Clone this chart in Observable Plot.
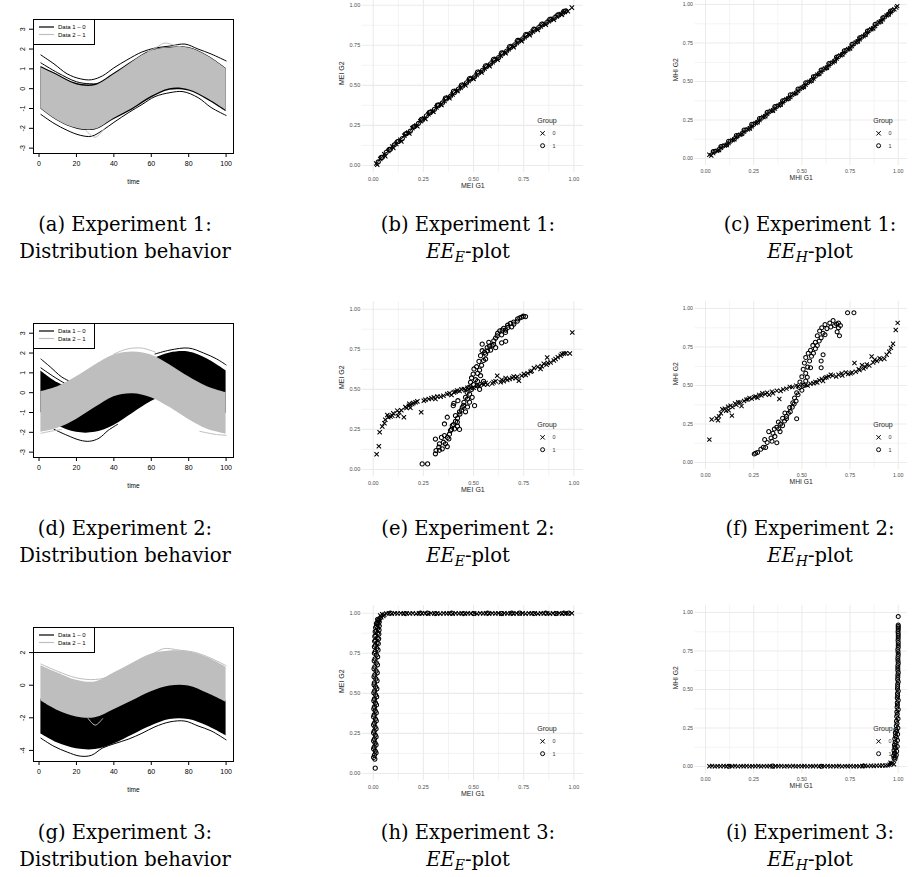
<!DOCTYPE html>
<html>
<head>
<meta charset="utf-8">
<script src="https://cdn.jsdelivr.net/npm/d3@7"></script>
<script src="https://cdn.jsdelivr.net/npm/@observablehq/plot@0.6"></script>
<style>
html,body{margin:0;padding:0;background:#fff;}
body{width:917px;height:877px;position:relative;overflow:hidden;font-family:"Liberation Sans",Arial,sans-serif;}
.panel{position:absolute;}
.panel svg{overflow:visible;}
.cap{position:absolute;width:320px;text-align:center;font-family:"DejaVu Serif","Liberation Serif",serif;font-size:19.5px;line-height:27px;color:#000;white-space:nowrap;}
.cap sub{font-size:14px;vertical-align:-4px;line-height:0;}
.leg{position:absolute;}
</style>
</head>
<body>
<div id="root"></div>
<script>
// ---------- shared tick labels ----------
const timeTicks = [0, 20, 40, 60, 80, 100];
const yTicksExp12 = [-3, -2, -1, 0, 1, 2, 3];
const yTicksExp3 = [-4, -2, 0, 2];
const eeMajor = [0, 0.25, 0.5, 0.75, 1];
const eeMinor = [0.125, 0.375, 0.625, 0.875];
const tGrid = [1, 10, 20, 30, 40, 50, 60, 70, 80, 90, 100];

// ---------- Experiment 1 curves (Data 1 - 0 black, Data 2 - 1 gray) ----------
const exp1Data1Upper = [1.12, 0.72, 0.27, 0.22, 0.76, 1.38, 1.92, 2.08, 2.08, 1.68, 1.03];
const exp1Data1Lower = [-1.03, -1.63, -2.03, -2.08, -1.57, -1.07, -0.48, -0.08, -0.12, -0.57, -1.16];
const exp1Data2Upper = [1.05, 0.65, 0.2, 0.15, 0.7, 1.35, 1.9, 2.05, 2.05, 1.65, 1.0];
const exp1Data2Lower = [-1.0, -1.6, -2.0, -2.05, -1.5, -1.0, -0.4, 0.0, -0.05, -0.5, -1.1];
const exp1BlackTop = [[1,1.7],[8,1.25],[15,0.75],[22,0.5],[28,0.45],[34,0.65],[40,1.05],[47,1.45],[55,1.85],[62,2.05],[70,2.15],[78,2.25],[85,2.0],[92,1.75],[100,1.4]];
const exp1BlackTop2 = [[1,1.3],[10,0.8],[20,0.35],[27,0.25],[35,0.3],[42,0.85]];
const exp1BlackBottom = [[1,-1.3],[8,-1.75],[15,-2.1],[22,-2.35],[28,-2.4],[34,-2.1],[40,-1.7],[48,-1.2],[55,-0.8],[62,-0.4],[70,-0.2],[77,-0.15],[85,-0.45],[92,-0.95],[100,-1.35]];
const exp1GrayTop = [[58,1.85],[63,2.1],[67,2.3],[72,2.2],[76,2.1]];
const exp1GrayDip = [[25,-2.1],[30,-2.45],[35,-2.0]];

// ---------- Experiment 2 curves ----------
const exp2Data1Upper = [1.1, 0.5, 0.15, 0.1, 0.5, 1.1, 1.65, 2.0, 2.05, 1.7, 1.1];
const exp2Data1Lower = [-1.0, -1.65, -2.0, -2.0, -1.65, -1.05, -0.45, -0.05, -0.05, -0.45, -1.05];
const exp2Data2Upper = [0.05, 0.3, 0.8, 1.4, 1.9, 2.05, 1.9, 1.4, 0.8, 0.3, 0.0];
const exp2Data2Lower = [-2.0, -1.8, -1.35, -0.75, -0.2, -0.05, -0.25, -0.75, -1.35, -1.85, -2.1];
const exp2BlackTopA = [[1,1.7],[6,1.3],[12,0.8],[18,0.5]];
const exp2BlackTopB = [[1,1.25],[8,0.8],[15,0.4]];
const exp2BlackTopRight = [[62,1.95],[70,2.15],[80,2.25],[88,2.0],[95,1.7],[100,1.4]];
const exp2BlackBottom = [[8,-1.85],[15,-2.15],[22,-2.4],[27,-2.45],[32,-2.3],[37,-1.9],[42,-1.6]];
const exp2GrayTop = [[40,1.95],[47,2.2],[55,2.25],[62,2.05]];
const exp2GrayBottomRight = [[86,-1.95],[94,-2.1],[100,-2.15]];
const exp2GrayLeft = [[1,-2.05],[6,-1.95],[12,-1.85]];

// ---------- Experiment 3 curves ----------
const exp3Data1Upper = [-0.85, -1.45, -1.85, -1.9, -1.4, -0.85, -0.3, 0.02, 0.02, -0.4, -0.95];
const exp3Data1Lower = [-3.0, -3.55, -3.9, -3.95, -3.6, -3.05, -2.5, -2.1, -2.1, -2.5, -3.1];
const exp3Data2Upper = [1.2, 0.75, 0.3, 0.2, 0.75, 1.35, 1.9, 2.1, 2.05, 1.7, 1.1];
const exp3Data2Lower = [-0.95, -1.55, -1.95, -2.0, -1.5, -0.95, -0.4, -0.05, -0.05, -0.5, -1.05];
const exp3BlackBottom = [[1,-3.25],[8,-3.75],[15,-4.1],[22,-4.35],[28,-4.3],[34,-3.85],[40,-3.6],[48,-3.3],[55,-2.95],[62,-2.55],[70,-2.25],[78,-2.2],[85,-2.5],[92,-2.8],[100,-3.35]];
const exp3GrayTop = [[1,1.3],[10,0.85],[20,0.45],[30,0.35],[38,0.55],[45,1.0],[55,1.6],[62,2.0],[67,2.25],[75,2.15],[82,2.05],[90,1.75],[100,1.2]];
const exp3GrayDip = [[26,-2.0],[30,-2.45],[34,-2.05]];

// ---------- EE-plots: [G1, G2] pairs per group ----------
const exp1MeiGroup0 = [[0.015,0.012],[0.035,0.04],[0.055,0.07],[0.075,0.09],[0.095,0.118],[0.115,0.135],[0.135,0.16],[0.155,0.185],[0.175,0.205],[0.195,0.232],[0.215,0.25],[0.235,0.276],[0.255,0.295],[0.275,0.32],[0.295,0.338],[0.315,0.362],[0.335,0.38],[0.355,0.402],[0.375,0.425],[0.395,0.443],[0.415,0.466],[0.435,0.485],[0.455,0.505],[0.475,0.527],[0.495,0.545],[0.515,0.565],[0.535,0.585],[0.555,0.605],[0.575,0.625],[0.595,0.645],[0.615,0.665],[0.635,0.685],[0.655,0.705],[0.675,0.725],[0.695,0.745],[0.715,0.765],[0.735,0.782],[0.755,0.8],[0.775,0.82],[0.795,0.836],[0.815,0.852],[0.835,0.868],[0.855,0.884],[0.875,0.9],[0.895,0.916],[0.915,0.93],[0.935,0.945],[0.955,0.958],[0.99,0.985],
  [0.02,0.005],[0.06,0.058],[0.1,0.11],[0.14,0.15],[0.18,0.2],[0.22,0.245],[0.26,0.29],[0.3,0.335],[0.34,0.378],[0.38,0.42],[0.42,0.465],[0.46,0.5],[0.5,0.54],[0.54,0.58],[0.58,0.62],[0.62,0.66],[0.66,0.7],[0.7,0.738],[0.74,0.776],[0.78,0.812],[0.82,0.846],[0.86,0.878],[0.9,0.91],[0.94,0.94],[0.97,0.962]];
const exp1MeiGroup1 = [[0.025,0.022],[0.045,0.05],[0.065,0.082],[0.085,0.1],[0.105,0.128],[0.125,0.15],[0.145,0.168],[0.165,0.198],[0.185,0.215],[0.205,0.242],[0.225,0.262],[0.245,0.283],[0.265,0.31],[0.285,0.33],[0.305,0.35],[0.325,0.373],[0.345,0.39],[0.365,0.415],[0.385,0.432],[0.405,0.455],[0.425,0.476],[0.445,0.495],[0.465,0.515],[0.485,0.538],[0.505,0.553],[0.525,0.576],[0.545,0.593],[0.565,0.616],[0.585,0.634],[0.605,0.656],[0.625,0.673],[0.645,0.696],[0.665,0.713],[0.685,0.736],[0.705,0.753],[0.725,0.775],[0.745,0.79],[0.765,0.812],[0.785,0.826],[0.805,0.846],[0.825,0.86],[0.845,0.878],[0.865,0.892],[0.885,0.908],[0.905,0.922],[0.925,0.938],[0.945,0.95],[0.96,0.965],
  [0.04,0.05],[0.08,0.1],[0.12,0.148],[0.16,0.196],[0.2,0.24],[0.24,0.288],[0.28,0.332],[0.32,0.376],[0.36,0.42],[0.4,0.462],[0.44,0.502],[0.48,0.542],[0.52,0.582],[0.56,0.622],[0.6,0.662],[0.64,0.702],[0.68,0.742],[0.72,0.78],[0.76,0.816],[0.8,0.85],[0.84,0.882],[0.88,0.912],[0.92,0.94],[0.95,0.962]];
const exp1MhiGroup0 = [[0.02,0.025],[0.04,0.035],[0.06,0.05],[0.08,0.07],[0.1,0.085],[0.12,0.1],[0.14,0.12],[0.16,0.14],[0.18,0.155],[0.2,0.175],[0.22,0.19],[0.24,0.21],[0.26,0.23],[0.28,0.25],[0.3,0.27],[0.32,0.29],[0.34,0.31],[0.36,0.325],[0.38,0.345],[0.4,0.365],[0.42,0.385],[0.44,0.4],[0.46,0.42],[0.48,0.44],[0.5,0.46],[0.52,0.48],[0.54,0.5],[0.56,0.52],[0.58,0.545],[0.6,0.565],[0.62,0.585],[0.64,0.605],[0.66,0.625],[0.68,0.65],[0.7,0.67],[0.72,0.69],[0.74,0.71],[0.76,0.73],[0.78,0.755],[0.8,0.775],[0.82,0.795],[0.84,0.82],[0.86,0.84],[0.88,0.86],[0.9,0.885],[0.92,0.905],[0.94,0.93],[0.96,0.95],[0.98,0.97],[0.995,0.99],
  [0.03,0.02],[0.07,0.055],[0.11,0.088],[0.15,0.125],[0.19,0.16],[0.23,0.195],[0.27,0.235],[0.31,0.275],[0.35,0.31],[0.39,0.35],[0.43,0.39],[0.47,0.425],[0.51,0.465],[0.55,0.505],[0.59,0.55],[0.63,0.59],[0.67,0.632],[0.71,0.675],[0.75,0.715],[0.79,0.76],[0.83,0.803],[0.87,0.845],[0.91,0.89],[0.95,0.935],[0.99,0.98]];
const exp1MhiGroup1 = [[0.05,0.048],[0.07,0.058],[0.09,0.08],[0.11,0.09],[0.13,0.113],[0.15,0.128],[0.17,0.15],[0.19,0.163],[0.21,0.185],[0.23,0.198],[0.25,0.222],[0.27,0.237],[0.29,0.262],[0.31,0.277],[0.33,0.302],[0.35,0.315],[0.37,0.338],[0.39,0.352],[0.41,0.377],[0.43,0.39],[0.45,0.413],[0.47,0.427],[0.49,0.452],[0.51,0.468],[0.53,0.492],[0.55,0.508],[0.57,0.535],[0.59,0.552],[0.61,0.577],[0.63,0.592],[0.65,0.618],[0.67,0.635],[0.69,0.662],[0.71,0.678],[0.73,0.702],[0.75,0.718],[0.77,0.745],[0.79,0.762],[0.81,0.788],[0.83,0.805],[0.85,0.832],[0.87,0.848],[0.89,0.875],[0.91,0.892],[0.93,0.92],[0.95,0.938],[0.97,0.962],
  [0.04,0.045],[0.08,0.078],[0.12,0.112],[0.16,0.15],[0.2,0.185],[0.24,0.222],[0.28,0.26],[0.32,0.3],[0.36,0.338],[0.4,0.375],[0.44,0.415],[0.48,0.452],[0.52,0.492],[0.56,0.532],[0.6,0.575],[0.64,0.618],[0.68,0.66],[0.72,0.7],[0.76,0.742],[0.8,0.785],[0.84,0.828],[0.88,0.872],[0.92,0.915],[0.96,0.958]];

const exp2MeiGroup0 = [[0.017,0.095],[0.028,0.145],[0.032,0.232],[0.045,0.268],[0.056,0.288],[0.06,0.31],[0.07,0.34],[0.075,0.326],[0.086,0.33],[0.095,0.336],[0.1,0.35],[0.12,0.367],[0.123,0.334],[0.13,0.355],[0.14,0.37],[0.153,0.326],[0.16,0.39],[0.166,0.384],[0.178,0.398],[0.18,0.41],[0.185,0.385],[0.194,0.409],[0.2,0.415],[0.211,0.419],[0.22,0.425],[0.239,0.357],[0.252,0.429],[0.26,0.435],[0.277,0.44],[0.29,0.445],[0.302,0.45],[0.31,0.44],[0.32,0.455],[0.336,0.454],[0.35,0.46],[0.369,0.471],[0.38,0.475],[0.39,0.465],[0.402,0.481],[0.41,0.485],[0.419,0.492],[0.43,0.49],[0.44,0.5],[0.452,0.502],[0.46,0.495],[0.47,0.51],[0.485,0.508],[0.5,0.51],[0.518,0.523],[0.53,0.52],[0.54,0.535],[0.551,0.529],[0.56,0.54],[0.57,0.53],[0.593,0.537],[0.6,0.545],[0.61,0.55],[0.618,0.585],[0.635,0.544],[0.64,0.56],[0.65,0.55],[0.66,0.57],[0.668,0.558],[0.68,0.565],[0.693,0.571],[0.7,0.58],[0.71,0.57],[0.718,0.579],[0.726,0.554],[0.74,0.585],[0.751,0.595],[0.76,0.59],[0.77,0.6],[0.784,0.61],[0.79,0.615],[0.801,0.633],[0.82,0.64],[0.834,0.627],[0.84,0.645],[0.85,0.66],[0.864,0.654],[0.867,0.699],[0.87,0.665],[0.884,0.668],[0.9,0.68],[0.909,0.689],[0.92,0.7],[0.934,0.71],[0.94,0.72],[0.95,0.724],[0.96,0.725],[0.98,0.724],[0.992,0.855]];
const exp2MeiGroup1 = [[0.244,0.035],[0.271,0.035],[0.31,0.098],[0.313,0.118],[0.31,0.19],[0.327,0.139],[0.33,0.12],[0.33,0.16],[0.34,0.2],[0.344,0.129],[0.35,0.17],[0.355,0.212],[0.36,0.16],[0.369,0.143],[0.37,0.2],[0.377,0.191],[0.38,0.22],[0.385,0.243],[0.39,0.25],[0.394,0.274],[0.4,0.28],[0.405,0.253],[0.41,0.3],[0.419,0.295],[0.42,0.27],[0.42,0.32],[0.43,0.25],[0.43,0.36],[0.399,0.398],[0.41,0.336],[0.422,0.429],[0.432,0.346],[0.44,0.37],[0.444,0.388],[0.45,0.4],[0.452,0.419],[0.46,0.45],[0.46,0.36],[0.47,0.39],[0.47,0.44],[0.468,0.481],[0.48,0.42],[0.48,0.47],[0.477,0.512],[0.485,0.544],[0.49,0.5],[0.49,0.571],[0.498,0.595],[0.5,0.53],[0.502,0.627],[0.505,0.398],[0.493,0.45],[0.51,0.56],[0.515,0.641],[0.518,0.523],[0.52,0.6],[0.52,0.55],[0.527,0.674],[0.53,0.62],[0.53,0.5],[0.535,0.71],[0.535,0.585],[0.54,0.65],[0.543,0.741],[0.543,0.782],[0.55,0.68],[0.55,0.55],[0.555,0.73],[0.56,0.689],[0.56,0.72],[0.568,0.761],[0.57,0.74],[0.576,0.793],[0.58,0.77],[0.585,0.745],[0.593,0.772],[0.6,0.78],[0.601,0.803],[0.61,0.82],[0.61,0.76],[0.618,0.834],[0.62,0.85],[0.631,0.865],[0.64,0.84],[0.64,0.79],[0.643,0.869],[0.65,0.88],[0.659,0.855],[0.66,0.87],[0.66,0.8],[0.671,0.886],[0.67,0.9],[0.684,0.911],[0.69,0.89],[0.701,0.907],[0.7,0.92],[0.718,0.926],[0.72,0.94],[0.731,0.946],[0.74,0.95],[0.748,0.956],[0.759,0.954],[0.402,0.413],[0.355,0.284],[0.369,0.326]];
const exp2MhiGroup0 = [[0.02,0.149],[0.032,0.28],[0.057,0.288],[0.065,0.274],[0.07,0.3],[0.08,0.32],[0.087,0.346],[0.1,0.35],[0.107,0.336],[0.117,0.363],[0.12,0.34],[0.13,0.37],[0.137,0.305],[0.14,0.36],[0.153,0.384],[0.16,0.375],[0.17,0.392],[0.18,0.39],[0.187,0.367],[0.2,0.4],[0.212,0.409],[0.22,0.41],[0.228,0.419],[0.24,0.415],[0.253,0.425],[0.26,0.43],[0.27,0.42],[0.278,0.44],[0.29,0.435],[0.295,0.45],[0.31,0.445],[0.32,0.454],[0.33,0.44],[0.345,0.461],[0.35,0.45],[0.37,0.467],[0.383,0.413],[0.39,0.465],[0.403,0.475],[0.42,0.48],[0.437,0.492],[0.45,0.49],[0.47,0.5],[0.48,0.495],[0.503,0.508],[0.52,0.505],[0.53,0.5],[0.545,0.512],[0.56,0.515],[0.57,0.523],[0.58,0.52],[0.59,0.535],[0.603,0.544],[0.61,0.53],[0.62,0.55],[0.628,0.554],[0.64,0.56],[0.65,0.571],[0.66,0.565],[0.678,0.558],[0.69,0.57],[0.707,0.579],[0.71,0.565],[0.728,0.585],[0.74,0.575],[0.753,0.579],[0.76,0.585],[0.773,0.647],[0.78,0.59],[0.795,0.606],[0.8,0.6],[0.812,0.633],[0.82,0.61],[0.83,0.62],[0.837,0.637],[0.85,0.63],[0.862,0.689],[0.87,0.65],[0.878,0.668],[0.89,0.66],[0.903,0.678],[0.91,0.67],[0.928,0.674],[0.94,0.7],[0.953,0.72],[0.962,0.745],[0.973,0.772],[0.987,0.861],[0.997,0.907]];
const exp2MhiGroup1 = [[0.253,0.056],[0.26,0.06],[0.27,0.066],[0.287,0.087],[0.3,0.1],[0.312,0.098],[0.307,0.149],[0.32,0.13],[0.328,0.201],[0.34,0.16],[0.345,0.139],[0.35,0.19],[0.357,0.218],[0.36,0.17],[0.37,0.129],[0.37,0.23],[0.378,0.263],[0.38,0.22],[0.387,0.201],[0.39,0.25],[0.4,0.288],[0.4,0.24],[0.41,0.27],[0.412,0.322],[0.42,0.284],[0.42,0.3],[0.43,0.32],[0.437,0.357],[0.44,0.33],[0.45,0.36],[0.453,0.388],[0.46,0.38],[0.462,0.419],[0.47,0.4],[0.473,0.284],[0.473,0.454],[0.48,0.44],[0.487,0.488],[0.49,0.523],[0.5,0.47],[0.5,0.558],[0.51,0.5],[0.507,0.606],[0.52,0.53],[0.513,0.647],[0.52,0.58],[0.52,0.683],[0.528,0.554],[0.53,0.62],[0.533,0.71],[0.54,0.66],[0.545,0.616],[0.545,0.73],[0.55,0.69],[0.557,0.761],[0.56,0.71],[0.57,0.782],[0.57,0.74],[0.58,0.824],[0.58,0.76],[0.59,0.79],[0.592,0.855],[0.6,0.616],[0.6,0.66],[0.6,0.81],[0.603,0.876],[0.61,0.84],[0.61,0.7],[0.62,0.896],[0.62,0.83],[0.63,0.87],[0.645,0.907],[0.65,0.88],[0.662,0.923],[0.67,0.89],[0.68,0.9],[0.683,0.849],[0.69,0.875],[0.69,0.907],[0.695,0.824],[0.7,0.89],[0.737,0.973],[0.77,0.973]];

const exp3MeiGroup0 = [[0.035,0.985],[0.045,0.993],[0.055,0.99],[0.065,0.998],[0.078,1.0],[0.092,0.997],[0.108,1.0],[0.121,0.998],[0.137,1.0],[0.152,0.997],[0.166,1.0],[0.183,0.998],[0.197,1.0],[0.214,0.997],[0.228,1.0],[0.243,0.998],[0.259,1.0],[0.274,0.997],[0.288,1.0],[0.305,0.998],[0.319,1.0],[0.334,0.997],[0.351,1.0],[0.366,0.998],[0.38,1.0],[0.396,0.997],[0.411,1.0],[0.427,0.998],[0.441,1.0],[0.457,0.997],[0.472,1.0],[0.486,0.998],[0.503,1.0],[0.517,0.997],[0.533,1.0],[0.548,0.998],[0.562,1.0],[0.578,0.997],[0.593,1.0],[0.609,0.998],[0.623,1.0],[0.639,0.997],[0.654,1.0],[0.668,0.998],[0.685,1.0],[0.699,0.997],[0.714,1.0],[0.73,0.998],[0.745,1.0],[0.759,0.997],[0.776,1.0],[0.79,0.998],[0.805,1.0],[0.821,0.997],[0.836,1.0],[0.85,0.998],[0.867,1.0],[0.881,0.997],[0.896,1.0],[0.912,0.998],[0.927,1.0],[0.941,0.997],[0.957,1.0],[0.972,0.998],[0.99,1.0],[0.04,0.975],[0.05,0.982]];
const exp3MeiGroup1 = [[0.01,0.033],[0.008,0.09],[0.006,0.115],[0.01,0.14],[0.005,0.165],[0.009,0.19],[0.006,0.215],[0.01,0.24],[0.005,0.265],[0.009,0.29],[0.006,0.315],[0.011,0.34],[0.005,0.365],[0.01,0.39],[0.006,0.415],[0.011,0.44],[0.006,0.465],[0.012,0.49],[0.007,0.515],[0.012,0.54],[0.006,0.565],[0.013,0.59],[0.008,0.615],[0.014,0.64],[0.008,0.665],[0.015,0.69],[0.009,0.715],[0.016,0.74],[0.01,0.76],[0.018,0.78],[0.011,0.8],[0.019,0.815],[0.012,0.83],[0.02,0.845],[0.013,0.86],[0.021,0.875],[0.015,0.89],[0.022,0.905],[0.017,0.918],[0.024,0.93],[0.02,0.942],[0.026,0.952],[0.022,0.962],
  [0.002,0.1],[0.014,0.128],[0.002,0.153],[0.014,0.178],[0.002,0.203],[0.014,0.228],[0.002,0.253],[0.014,0.278],[0.002,0.303],[0.015,0.328],[0.002,0.353],[0.015,0.378],[0.003,0.403],[0.016,0.428],[0.003,0.453],[0.017,0.478],[0.003,0.503],[0.018,0.528],[0.004,0.553],[0.019,0.578],[0.004,0.603],[0.02,0.628],[0.004,0.653],[0.021,0.678],[0.005,0.703],[0.022,0.728],[0.006,0.75],[0.024,0.77],[0.006,0.79],[0.025,0.81],[0.007,0.825],[0.027,0.84],[0.008,0.855],[0.028,0.87],[0.01,0.885],[0.029,0.895],[0.012,0.91],[0.03,0.92],[0.016,0.935],[0.03,0.945],[0.028,0.96],[0.035,0.97],
  [0.085,1.0],[0.16,0.998],[0.235,1.0],[0.27,1.0],[0.31,0.998],[0.39,1.0],[0.45,0.998],[0.5,0.998],[0.57,1.0],[0.64,0.998],[0.69,1.0],[0.73,1.0],[0.8,0.998],[0.86,1.0],[0.91,0.998],[0.95,1.0],[0.975,1.0]];
const exp3MhiGroup0 = [[0.02,0.002],[0.034,0.004],[0.049,0.001],[0.063,0.003],[0.078,0.002],[0.094,0.004],[0.108,0.001],[0.123,0.003],[0.139,0.002],[0.153,0.004],[0.168,0.001],[0.184,0.003],[0.198,0.002],[0.213,0.004],[0.229,0.001],[0.243,0.003],[0.258,0.002],[0.274,0.004],[0.288,0.001],[0.303,0.003],[0.319,0.002],[0.333,0.004],[0.348,0.001],[0.364,0.003],[0.378,0.002],[0.393,0.004],[0.409,0.001],[0.423,0.003],[0.438,0.002],[0.454,0.004],[0.468,0.001],[0.483,0.003],[0.499,0.002],[0.513,0.004],[0.528,0.001],[0.544,0.003],[0.558,0.002],[0.573,0.004],[0.589,0.001],[0.603,0.003],[0.618,0.002],[0.634,0.004],[0.648,0.001],[0.663,0.003],[0.679,0.002],[0.693,0.004],[0.708,0.001],[0.724,0.003],[0.738,0.002],[0.753,0.004],[0.769,0.001],[0.783,0.003],[0.798,0.002],[0.814,0.004],[0.828,0.006],[0.843,0.003],[0.859,0.005],[0.873,0.004],[0.888,0.006],[0.904,0.005],[0.918,0.007],[0.933,0.006],[0.945,0.008],[0.955,0.012],[0.963,0.017],[0.97,0.022],[0.978,0.015],[0.96,0.025]];
const exp3MhiGroup1 = [[0.983,0.048],[0.985,0.06],[0.99,0.075],[0.982,0.09],[0.992,0.1],[0.985,0.12],[0.995,0.13],[0.988,0.15],[0.996,0.17],[0.99,0.19],[0.997,0.21],[0.992,0.23],[0.998,0.25],[0.994,0.28],[0.999,0.31],[0.995,0.34],[1.0,0.37],[0.996,0.4],[1.0,0.43],[0.997,0.46],[1.0,0.49],[0.997,0.52],[1.0,0.55],[0.998,0.58],[1.0,0.61],[0.998,0.64],[1.0,0.67],[0.998,0.7],[1.0,0.73],[0.998,0.76],[1.0,0.79],[0.999,0.82],[1.0,0.85],[0.999,0.875],[1.0,0.9],[1.0,0.92],[1.0,0.975],
  [0.978,0.055],[0.976,0.07],[0.98,0.085],[0.978,0.105],[0.982,0.125],[0.98,0.14],[0.984,0.16],[0.982,0.18],[0.986,0.2],[0.985,0.22],[0.988,0.24],[0.99,0.265],[0.991,0.295],[0.992,0.325],[0.993,0.355],[0.994,0.385],[0.995,0.415],[0.995,0.445],[0.996,0.475],[0.996,0.505],[0.997,0.535],[0.997,0.565],[0.998,0.595],[0.998,0.625],[0.998,0.655],[0.999,0.685],[0.999,0.715],[0.999,0.745],[1.0,0.775],[1.0,0.805],[1.0,0.835],[1.0,0.862],[1.0,0.888],[1.0,0.91],
  [0.12,0.002],[0.35,0.003],[0.6,0.002],[0.82,0.004]];

// ---------- text ----------
const legendLabels = ["Data 1 \u2013 0", "Data 2 \u2013 1"];
const groupLabels = ["0", "1"];
const captions = [
  ["(a) Experiment 1:", "Distribution behavior"],
  ["(b) Experiment 1:", "<i>EE</i><sub><i>E</i></sub>-plot"],
  ["(c) Experiment 1:", "<i>EE</i><sub><i>H</i></sub>-plot"],
  ["(d) Experiment 2:", "Distribution behavior"],
  ["(e) Experiment 2:", "<i>EE</i><sub><i>E</i></sub>-plot"],
  ["(f) Experiment 2:", "<i>EE</i><sub><i>H</i></sub>-plot"],
  ["(g) Experiment 3:", "Distribution behavior"],
  ["(h) Experiment 3:", "<i>EE</i><sub><i>E</i></sub>-plot"],
  ["(i) Experiment 3:", "<i>EE</i><sub><i>H</i></sub>-plot"]
];

// ---------- helpers ----------
const root = document.getElementById("root");
const ROW = 304;
const FONT = "Liberation Sans, Arial, sans-serif";
const band = (lo, hi) => tGrid.map((t, i) => ({t, lo: lo[i], hi: hi[i]}));
const curve = (pairs) => pairs.map(([t, v]) => ({t, v}));
const pts = (g0, g1) => [...g0.map(([x, y]) => ({x, y, g: 0})), ...g1.map(([x, y]) => ({x, y, g: 1}))];

function place(node, left, top) {
  const d = document.createElement("div");
  d.className = "panel";
  d.style.left = left + "px";
  d.style.top = top + "px";
  d.appendChild(node);
  root.appendChild(d);
}

function basePanel(row, yDomain, yTicks, band1, lines1, band2, lines2) {
  const svg = Plot.plot({
    width: 250, height: 200,
    marginLeft: 33, marginRight: 17, marginTop: 19, marginBottom: 47,
    x: {domain: [-2.96, 103.96]},
    y: {domain: yDomain},
    style: {fontFamily: FONT, color: "#000", background: "transparent"},
    marks: [
      Plot.areaY(band1, {x: "t", y1: "lo", y2: "hi", fill: "#000", curve: "catmull-rom"}),
      ...lines1.map(l => Plot.line(curve(l), {x: "t", y: "v", stroke: "#000", strokeWidth: 1, curve: "catmull-rom"})),
      Plot.areaY(band2, {x: "t", y1: "lo", y2: "hi", fill: "#bebebe", curve: "catmull-rom"}),
      ...lines2.map(l => Plot.line(curve(l), {x: "t", y: "v", stroke: "#bebebe", strokeWidth: 1, curve: "catmull-rom"})),
      Plot.frame({stroke: "#000", strokeWidth: 1}),
      Plot.axisX(timeTicks, {tickSize: 4, tickPadding: 4, fontSize: 7, label: null}),
      Plot.axisY(yTicks, {tickSize: 4, tickFormat: () => "", label: null}),
      Plot.text(yTicks, {y: d => d, text: d => String(d), frameAnchor: "left", dx: -11, rotate: -90, fontSize: 7, textAnchor: "middle", lineAnchor: "middle"}),
      Plot.text(["time"], {frameAnchor: "bottom", dy: 30, fontSize: 6.5})
    ]
  });
  place(svg, 0, row * ROW);
  const ns = "http://www.w3.org/2000/svg";
  const lg = document.createElementNS(ns, "svg");
  lg.setAttribute("width", 62); lg.setAttribute("height", 26);
  lg.innerHTML =
    `<rect x="0.5" y="0.5" width="61" height="25" fill="#fff" stroke="#000" stroke-width="1"/>` +
    `<line x1="6" x2="21" y1="8" y2="8" stroke="#000" stroke-width="1.2"/>` +
    `<text x="25" y="8" dominant-baseline="central" font-size="6" font-family="${FONT}">${legendLabels[0]}</text>` +
    `<line x1="6" x2="21" y1="15.5" y2="15.5" stroke="#bebebe" stroke-width="1.2"/>` +
    `<text x="25" y="15.5" dominant-baseline="central" font-size="6" font-family="${FONT}">${legendLabels[1]}</text>`;
  const d = document.createElement("div");
  d.className = "leg"; d.style.left = "33px"; d.style.top = (row * ROW + 19) + "px";
  d.appendChild(lg); root.appendChild(d);
}

function eePanel(row, col, data, xlab, ylab) {
  const left = col === 1 ? 300 : 600;
  const width = col === 1 ? 300 : 330;
  const mL = col === 1 ? 61.7 : 98.3;
  const svg = Plot.plot({
    width, height: 212,
    marginLeft: mL, marginRight: width - mL - 221.3, marginTop: 7, marginBottom: 29.8,
    x: {domain: [-0.055, 1.048]},
    y: {domain: [-0.045, 1.048]},
    symbol: {domain: [0, 1], range: ["times", "circle"]},
    style: {fontFamily: FONT, color: "#000", background: "transparent"},
    marks: [
      Plot.gridX(eeMinor, {stroke: "#ebebeb", strokeOpacity: 1, strokeWidth: 0.6}),
      Plot.gridY(eeMinor, {stroke: "#ebebeb", strokeOpacity: 1, strokeWidth: 0.6}),
      Plot.gridX(eeMajor, {stroke: "#ebebeb", strokeOpacity: 1, strokeWidth: 1.1}),
      Plot.gridY(eeMajor, {stroke: "#ebebeb", strokeOpacity: 1, strokeWidth: 1.1}),
      Plot.axisX(eeMajor, {tickSize: 0, tickPadding: 4, fontSize: 5.5, fill: "#4d4d4d", tickFormat: d => d.toFixed(2), label: null}),
      Plot.axisY(eeMajor, {tickSize: 0, tickPadding: 2, fontSize: 5.5, fill: "#4d4d4d", tickFormat: d => d.toFixed(2), label: null}),
      Plot.text([xlab], {frameAnchor: "bottom", dy: 15, fontSize: 7, fill: "#222"}),
      Plot.text([ylab], {frameAnchor: "left", dx: -20, rotate: -90, fontSize: 7, fill: "#222"}),
      Plot.dot(data, {x: "x", y: "y", symbol: "g", stroke: "#000", fill: "none", r: 2.1, strokeWidth: 1.05})
    ]
  });
  place(svg, left, row * ROW - 10);
  const ns = "http://www.w3.org/2000/svg";
  const lg = document.createElementNS(ns, "svg");
  lg.setAttribute("width", 40); lg.setAttribute("height", 40);
  const s = 2.2;
  lg.innerHTML =
    `<text x="16" y="7" text-anchor="middle" dominant-baseline="central" font-size="7" fill="#222" font-family="${FONT}">Group</text>` +
    `<path d="M${11.6 - s},${20.3 - s}L${11.6 + s},${20.3 + s}M${11.6 - s},${20.3 + s}L${11.6 + s},${20.3 - s}" stroke="#000" stroke-width="1" fill="none"/>` +
    `<circle cx="11.6" cy="32.7" r="2" stroke="#000" stroke-width="1" fill="none"/>` +
    `<text x="21.5" y="20.3" dominant-baseline="central" font-size="5.5" fill="#333" font-family="${FONT}">${groupLabels[0]}</text>` +
    `<text x="21.5" y="32.7" dominant-baseline="central" font-size="5.5" fill="#333" font-family="${FONT}">${groupLabels[1]}</text>`;
  const d = document.createElement("div");
  d.className = "leg";
  d.style.left = (col === 1 ? 530.7 : 866.7) + "px";
  d.style.top = (row * ROW + 113) + "px";
  d.appendChild(lg); root.appendChild(d);
}

// ---------- build panels ----------
basePanel(0, [-3.27, 3.49], yTicksExp12,
  band(exp1Data1Lower, exp1Data1Upper), [exp1BlackTop, exp1BlackTop2, exp1BlackBottom],
  band(exp1Data2Lower, exp1Data2Upper), [exp1GrayTop, exp1GrayDip]);
basePanel(1, [-3.27, 3.49], yTicksExp12,
  band(exp2Data1Lower, exp2Data1Upper), [exp2BlackTopA, exp2BlackTopB, exp2BlackTopRight, exp2BlackBottom],
  band(exp2Data2Lower, exp2Data2Upper), [exp2GrayTop, exp2GrayBottomRight, exp2GrayLeft]);
basePanel(2, [-4.68, 3.54], yTicksExp3,
  band(exp3Data1Lower, exp3Data1Upper), [exp3BlackBottom],
  band(exp3Data2Lower, exp3Data2Upper), [exp3GrayTop, exp3GrayDip]);

eePanel(0, 1, pts(exp1MeiGroup0, exp1MeiGroup1), "MEI G1", "MEI G2");
eePanel(0, 2, pts(exp1MhiGroup0, exp1MhiGroup1), "MHI G1", "MHI G2");
eePanel(1, 1, pts(exp2MeiGroup0, exp2MeiGroup1), "MEI G1", "MEI G2");
eePanel(1, 2, pts(exp2MhiGroup0, exp2MhiGroup1), "MHI G1", "MHI G2");
eePanel(2, 1, pts(exp3MeiGroup0, exp3MeiGroup1), "MEI G1", "MEI G2");
eePanel(2, 2, pts(exp3MhiGroup0, exp3MhiGroup1), "MHI G1", "MHI G2");

// ---------- captions ----------
const capCenters = [125, 468, 810];
captions.forEach((c, i) => {
  const row = Math.floor(i / 3), col = i % 3;
  const d = document.createElement("div");
  d.className = "cap";
  d.style.left = (capCenters[col] - 160) + "px";
  d.style.top = (row * ROW + 211) + "px";
  d.innerHTML = c[0] + "<br>" + c[1];
  root.appendChild(d);
});
</script>
</body>
</html>
